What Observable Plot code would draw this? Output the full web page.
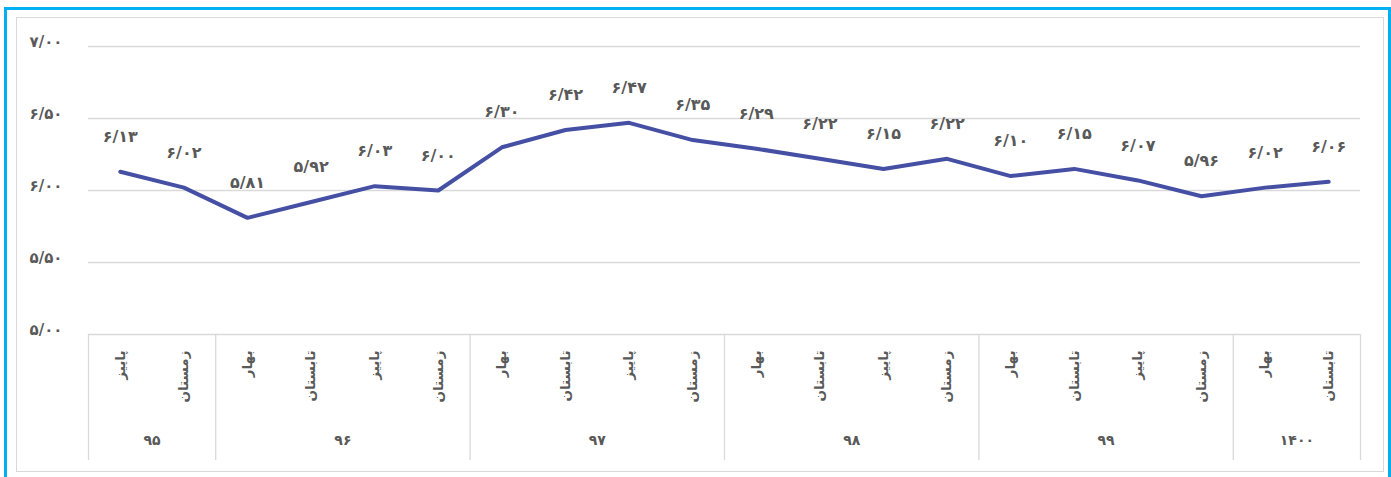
<!DOCTYPE html>
<html><head><meta charset="utf-8">
<script src="https://cdn.jsdelivr.net/npm/d3@7"></script>
<script src="https://cdn.jsdelivr.net/npm/@observablehq/plot@0.6"></script>
<style>
html,body{margin:0;padding:0;background:#fff;overflow:hidden;}
#wrap{position:relative;width:1391px;height:477px;}
#blue{position:absolute;left:4px;top:7px;width:1381px;height:480px;border:3px solid #00b0f0;box-sizing:content-box;}
#gray{position:absolute;left:16px;top:17px;width:1366px;height:453px;border:1px solid #d9d9d9;}
#chart{position:absolute;left:0;top:0;}
</style></head>
<body><div id="wrap"><div id="blue"></div><div id="gray"></div><div id="chart"></div></div>
<script>
const years   = ["۹۵","۹۶","۹۷","۹۸","۹۹","۱۴۰۰"];
const seasons = [
  ["پاییز","زمستان"],
  ["بهار","تابستان","پاییز","زمستان"],
  ["بهار","تابستان","پاییز","زمستان"],
  ["بهار","تابستان","پاییز","زمستان"],
  ["بهار","تابستان","پاییز","زمستان"],
  ["بهار","تابستان"]
];
const values = [
  [6.13,6.02],
  [5.81,5.92,6.03,6.00],
  [6.30,6.42,6.47,6.35],
  [6.29,6.22,6.15,6.22],
  [6.10,6.15,6.07,5.96],
  [6.02,6.06]
];
const yTicks = [5,5.5,6,6.5,7];

const fa = s => String(s).replace(/[0-9]/g, d => "۰۱۲۳۴۵۶۷۸۹"[+d]);
const fmt = v => fa(v.toFixed(2)).replace(".", "/");

const rows = [];
years.forEach((yr, g) => seasons[g].forEach((s, i) => rows.push({key: yr + "|" + s, year: yr, season: s, value: values[g][i], g, i})));
const domain = rows.map(r => r.key);
const groupFirst = years.map((yr, g) => rows.find(r => r.g === g));
const groupMid = years.map((yr, g) => {
  const rs = rows.filter(r => r.g === g);
  return {key: rs[Math.floor((rs.length - 1) / 2)].key, year: yr};
});
const lastKey = domain[domain.length - 1];

const W = 1391, H = 477, ML = 88, MR = 31, MT = 46, MB = 143;
const step = (W - ML - MR) / domain.length;
const font = "DejaVu Sans";
const gray = "#595959";

const chart = Plot.plot({
  width: W, height: H,
  marginLeft: ML, marginRight: MR, marginTop: MT, marginBottom: MB,
  style: {fontFamily: font, background: "transparent", overflow: "visible"},
  x: {type: "point", domain, padding: 0.5, align: 0.5, round: false, axis: null},
  y: {domain: [5, 7], axis: null},
  marks: [
    Plot.ruleY(yTicks, {y: d => d, stroke: "#d9d9d9", strokeWidth: 1.3}),
    Plot.text(yTicks, {y: d => d, frameAnchor: "left", dx: -26, dy: -4, text: d => fmt(d), textAnchor: "end", fill: gray, fontSize: 15, fontWeight: "bold"}),
    Plot.ruleX(groupFirst, {x: "key", dx: -step / 2, y1: 5, y2: 4.125, stroke: "#d9d9d9", strokeWidth: 1.3}),
    Plot.ruleX([lastKey], {x: d => d, dx: step / 2, y1: 5, y2: 4.125, stroke: "#d9d9d9", strokeWidth: 1.3}),
    Plot.line(rows, {x: "key", y: "value", stroke: "#454fa3", strokeWidth: 4, curve: "linear"}),
    Plot.text(rows, {x: "key", y: "value", text: d => fmt(d.value), dy: -35, fill: gray, fontSize: 16, fontWeight: "bold"}),
    Plot.text(rows, {x: "key", y: 5, text: "season", rotate: -90, textAnchor: "end", dy: 16, fill: gray, fontSize: 13.5, fontWeight: "bold"}),
    Plot.text(groupMid, {x: "key", y: 5, text: "year", dx: step / 2, dy: 106, fill: gray, fontSize: 14, fontWeight: "bold"})
  ]
});
document.getElementById("chart").append(chart);
</script></body></html>
